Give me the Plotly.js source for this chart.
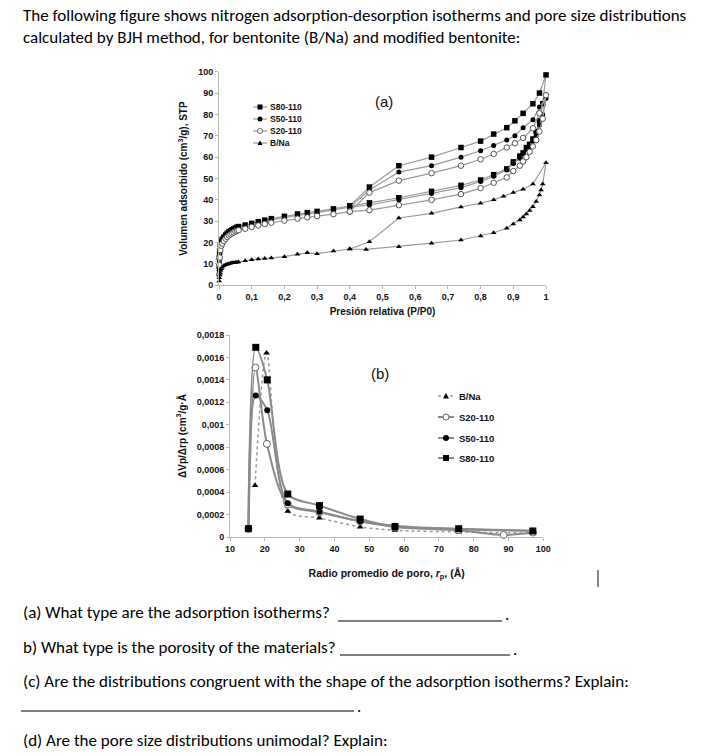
<!DOCTYPE html>
<html><head><meta charset="utf-8">
<script src="https://cdn.plot.ly/plotly-3.0.1.min.js"></script>
<style>html,body{margin:0;padding:0;background:#fff;} #chart{width:711px;height:756px;}</style>
</head><body><div id="chart"></div>
<script>
// ---------- (a) isotherms ----------
const P_S_ads = [0.0005,0.001,0.002,0.004,0.007,0.01,0.015,0.02,0.025,0.03,0.035,0.04,0.045,0.05,0.055,0.06,0.08,0.1,0.12,0.14,0.16,0.2,0.24,0.27,0.3,0.35,0.4,0.46,0.55,0.65,0.74,0.8,0.84,0.88,0.9,0.92,0.93,0.94,0.95,0.96,0.97,0.98,0.99,1.0];
const S80_ads = [9,13,16,19,20.5,21.5,22.5,23.5,24.3,25,25.5,26,26.4,26.8,27.2,27.5,28.2,29,29.8,30.5,31.2,32.3,33.4,34,34.6,35.8,37.2,38.6,41,44,46.8,49.3,51.8,54.5,57.8,60.5,62,64.5,66,68.5,72,77,85,98.5];
const S50_ads = [7,11,14.5,18,20,21,22,23,23.8,24.5,25,25.5,26,26.3,26.7,27,27.7,28.5,29.2,30,30.6,31.7,32.8,33.4,34,35.3,36.6,37.6,40,43,45.7,48.6,51,54,57,59.5,61.5,63.5,65,67.5,70,75,80,87.5];
const S20_ads = [5,9.5,13,16.5,18.5,19.5,20.8,21.8,22.6,23.3,23.8,24.3,24.8,25.2,25.5,25.8,26.5,27.3,28,28.7,29.3,30.3,31.2,31.8,32.4,33.3,34.5,35.2,37.5,40,42.7,45.5,48,50.5,53.5,56,58,60,62.5,65,68,72,78,89];
const P_S_des = [0.98,0.96,0.93,0.905,0.88,0.84,0.8,0.74,0.65,0.55,0.46,0.4];
const S80_des = [90,85,80.5,77,73.8,70.8,67.5,64.5,60,56,46,37.2];
const S50_des = [83.5,77.5,73.8,70,68,65.5,63,60,56,53,44.6,36.6];
const S20_des = [80.5,73.5,69,66.5,64.5,61.5,59,56,52.5,49,43.4,34.5];
const P_B_ads = [0.0005,0.001,0.002,0.003,0.005,0.007,0.01,0.015,0.02,0.025,0.03,0.035,0.04,0.045,0.05,0.055,0.06,0.08,0.1,0.12,0.14,0.16,0.2,0.24,0.27,0.3,0.35,0.4,0.45,0.55,0.65,0.74,0.8,0.84,0.88,0.9,0.92,0.93,0.94,0.95,0.96,0.97,0.98,0.985,0.99,1.0];
const BNa_ads = [2,3.5,5,6,7,7.8,8.5,9.2,9.6,9.9,10.1,10.3,10.5,10.6,10.7,10.8,10.9,11.5,12,12.3,12.6,12.8,13.4,14.5,15.2,14.8,16,17,16.8,18.1,19.7,21.2,23.1,24.6,26.7,28.7,30.6,32,33.4,35,36.8,39.2,42.3,44.6,47.4,57.4];
const P_B_des = [0.96,0.93,0.9,0.87,0.84,0.8,0.74,0.65,0.55,0.46,0.4];
const BNa_des = [47.4,45,43.4,41.7,40,38.4,36.7,33.7,31.5,20.4,17];
const xTicksA = [0,0.1,0.2,0.3,0.4,0.5,0.6,0.7,0.8,0.9,1];
const xTickTextA = ["0","0,1","0,2","0,3","0,4","0,5","0,6","0,7","0,8","0,9","1"];
const yTicksA = [0,10,20,30,40,50,60,70,80,90,100];

// ---------- (b) pore size distributions ----------
const r_S = [15.3,17.4,20.7,26.6,35.7,47.4,57.4,75.7,97];
const S80_psd = [0.000074,0.00169,0.00140,0.000383,0.00028,0.00016,0.000092,0.000074,0.0000535];
const S50_psd = [0.000074,0.00126,0.00113,0.0003,0.000226,0.00014,0.0001,0.00007,0.000056];
const r_S20 = [15.3,17.3,20.6,26.6,35.7,47.4,57.4,75.7,88.6,97];
const S20_psd = [0.000074,0.00151,0.00083,0.00029,0.00022,0.00014,0.00009,0.00006,0.000018,0.00004];
const r_B = [17.2,20.5,26.6,35.7,47.4,57.4,75.7,97];
const BNa_psd = [0.00046,0.00164,0.00023,0.00017,0.00009,0.00006,0.000045,0.000035];
const xTicksB = [10,20,30,40,50,60,70,80,90,100];
const yTicksB = [0,0.0002,0.0004,0.0006,0.0008,0.001,0.0012,0.0014,0.0016,0.0018];
const yTickTextB = ["0","0,0002","0,0004","0,0006","0,0008","0,001","0,0012","0,0014","0,0016","0,0018"];

const names = ["S80-110","S50-110","S20-110","B/Na"];

const W = 711, H = 756;
const px = x => x / W;
const py = y => 1 - y / H;

const LINE = '#9a9a9a';
const LINEB = '#8a8a8a';

const traces = [
  {x:P_S_ads.concat(P_S_des), y:S80_ads.concat(S80_des), name:names[0], mode:'lines+markers', line:{color:LINE,width:1.2}, marker:{symbol:'square', size:5.5, color:'#000'}, xaxis:'x', yaxis:'y', cliponaxis:false},
  {x:P_S_ads.concat(P_S_des), y:S50_ads.concat(S50_des), name:names[1], mode:'lines+markers', line:{color:LINE,width:1.2}, marker:{symbol:'circle', size:5, color:'#000'}, xaxis:'x', yaxis:'y', cliponaxis:false},
  {x:P_S_ads.concat(P_S_des), y:S20_ads.concat(S20_des), name:names[2], mode:'lines+markers', line:{color:LINE,width:1.2}, marker:{symbol:'circle', size:5.5, color:'#fff', line:{width:1,color:'#555'}}, xaxis:'x', yaxis:'y', cliponaxis:false},
  {x:P_B_ads.concat(P_B_des), y:BNa_ads.concat(BNa_des), name:names[3], mode:'lines+markers', line:{color:LINE,width:1.2}, marker:{symbol:'triangle-up', size:5, color:'#000'}, xaxis:'x', yaxis:'y', cliponaxis:false},

  {x:r_B, y:BNa_psd, name:names[3], mode:'lines+markers', line:{color:'#9a9a9a',width:1.5,dash:'dot',shape:'spline',smoothing:0.8}, marker:{symbol:'triangle-up',size:6,color:'#000'}, xaxis:'x2', yaxis:'y2', cliponaxis:false},
  {x:r_S20, y:S20_psd, name:names[2], mode:'lines+markers', line:{color:LINEB,width:2,shape:'spline',smoothing:0.8}, marker:{symbol:'circle',size:7,color:'#fff',line:{width:1,color:'#666'}}, xaxis:'x2', yaxis:'y2', cliponaxis:false},
  {x:r_S, y:S50_psd, name:names[1], mode:'lines+markers', line:{color:LINEB,width:2,shape:'spline',smoothing:0.8}, marker:{symbol:'circle',size:6,color:'#000'}, xaxis:'x2', yaxis:'y2', cliponaxis:false},
  {x:r_S, y:S80_psd, name:names[0], mode:'lines+markers', line:{color:LINEB,width:2,shape:'spline',smoothing:0.8}, marker:{symbol:'square',size:7,color:'#000'}, xaxis:'x2', yaxis:'y2', cliponaxis:false}
];

const tickFont = {family:'Liberation Sans, Arial, sans-serif', size:9, color:'#111', weight:'bold'};
const titleFont = {family:'Liberation Sans, Arial, sans-serif', size:10, color:'#111', weight:'bold'};
const axBase = {showline:true, linecolor:'#b8b8b8', linewidth:1, ticks:'outside', ticklen:3, tickcolor:'#b8b8b8', showgrid:false, zeroline:false, tickfont:tickFont};

const docFont = {family:"Carlito, 'Liberation Sans', sans-serif", size:17, color:'#000'};
const annotations = [];
function txt(t, x, y, font, anchor) {
  annotations.push({text:t, x:px(x), y:py(y), xref:'paper', yref:'paper', showarrow:false, xanchor:anchor||'left', yanchor:'middle', font:font});
}
txt('The following figure shows nitrogen adsorption-desorption isotherms and pore size distributions', 21, 15, docFont);
txt('calculated by BJH method, for bentonite (B/Na) and modified bentonite:', 21, 37, docFont);
txt('(a) What type are the adsorption isotherms?', 21, 612, docFont);
txt('.', 503, 614, docFont);
txt('b) What type is the porosity of the materials?', 21, 647, docFont);
txt('.', 511, 649, docFont);
txt('(c) Are the distributions congruent with the shape of the adsorption isotherms? Explain:', 21, 681, docFont);
txt('.', 355, 706, docFont);
txt('(d) Are the pore size distributions unimodal? Explain:', 21, 740, docFont);

txt('(a)', 384, 101, {family:'Liberation Sans, Arial, sans-serif', size:15, color:'#111'}, 'center');
txt('(b)', 380, 373, {family:'Liberation Sans, Arial, sans-serif', size:15, color:'#111'}, 'center');

const legFontA = {family:'Liberation Sans, Arial, sans-serif', size:8.5, color:'#111', weight:'bold'};
const legFontB = {family:'Liberation Sans, Arial, sans-serif', size:9.5, color:'#111', weight:'bold'};
const legAy = [107,119,131,143];
const legBy = [458,438,417,396]; // S80, S50, S20, B/Na
names.forEach((n,i)=>{ txt(n, 268, legAy[i], legFontA); txt(n, 457, legBy[i], legFontB); });

const shapes = [];
function hline(x0,x1,y,color,w,dash){shapes.push({type:'line',xref:'paper',yref:'paper',x0:px(x0),x1:px(x1),y0:py(y),y1:py(y),line:{color:color,width:w,dash:dash||'solid'}});}
function marker(kind,cx,cy,s){
  const h=s/2;
  if(kind==='sq') shapes.push({type:'rect',xref:'paper',yref:'paper',x0:px(cx-h),x1:px(cx+h),y0:py(cy+h),y1:py(cy-h),fillcolor:'#000',line:{width:0}});
  if(kind==='ci') shapes.push({type:'circle',xref:'paper',yref:'paper',x0:px(cx-h),x1:px(cx+h),y0:py(cy+h),y1:py(cy-h),fillcolor:'#000',line:{width:0}});
  if(kind==='oc') shapes.push({type:'circle',xref:'paper',yref:'paper',x0:px(cx-h),x1:px(cx+h),y0:py(cy+h),y1:py(cy-h),fillcolor:'#fff',line:{width:1,color:'#666'}});
  if(kind==='tr') shapes.push({type:'path',xref:'paper',yref:'paper',path:`M ${px(cx-h)} ${py(cy+h*0.8)} L ${px(cx+h)} ${py(cy+h*0.8)} L ${px(cx)} ${py(cy-h)} Z`,fillcolor:'#000',line:{width:0}});
}
const kinds = ['sq','ci','oc','tr'];
kinds.forEach((k,i)=>{ hline(253,267,legAy[i],LINE,1.2); marker(k,260,legAy[i],5); });
kinds.forEach((k,i)=>{ hline(438,454,legBy[i],k==='tr'?'#9a9a9a':LINEB,k==='tr'?1.5:2,k==='tr'?'dot':'solid'); marker(k,446,legBy[i],6); });

// answer blanks
hline(338,502,621,'#000',1);
hline(340,510,655,'#000',1);
hline(21,354,711,'#000',1);
// text cursor
shapes.push({type:'line',xref:'paper',yref:'paper',x0:px(598),x1:px(598),y0:py(570),y1:py(587),line:{color:'#111',width:1}});

const layout = {
  width:W, height:H, margin:{l:0,r:0,t:0,b:0}, paper_bgcolor:'#fff', plot_bgcolor:'rgba(0,0,0,0)',
  showlegend:false,
  xaxis: Object.assign({}, axBase, {domain:[px(219),px(546)], range:[0,1], tickvals:xTicksA, ticktext:xTickTextA, anchor:'y',
    title:{text:'Presión relativa (P/P0)', font:titleFont, standoff:6}}),
  yaxis: Object.assign({}, axBase, {domain:[py(285.3),py(71.7)], range:[0,100], tickvals:yTicksA, anchor:'x',
    title:{text:'Volumen adsorbido (cm<sup>3</sup>/g), STP', font:titleFont, standoff:8}}),
  xaxis2: Object.assign({}, axBase, {domain:[px(230),px(543.3)], range:[10,100], tickvals:xTicksB, anchor:'y2',
    title:{text:'Radio promedio de poro, <i>r</i><sub>p</sub>, (Å)', font:Object.assign({}, titleFont, {size:10.5}), standoff:16}}),
  yaxis2: Object.assign({}, axBase, {domain:[py(537),py(335)], range:[0,0.0018], tickvals:yTicksB, ticktext:yTickTextB, anchor:'x2',
    title:{text:'ΔVp/Δrp (cm<sup>3</sup>/g·Å', font:titleFont, standoff:8}}),
  annotations: annotations,
  shapes: shapes
};

Plotly.newPlot('chart', traces, layout, {staticPlot:true, displayModeBar:false});
</script>
</body></html>
